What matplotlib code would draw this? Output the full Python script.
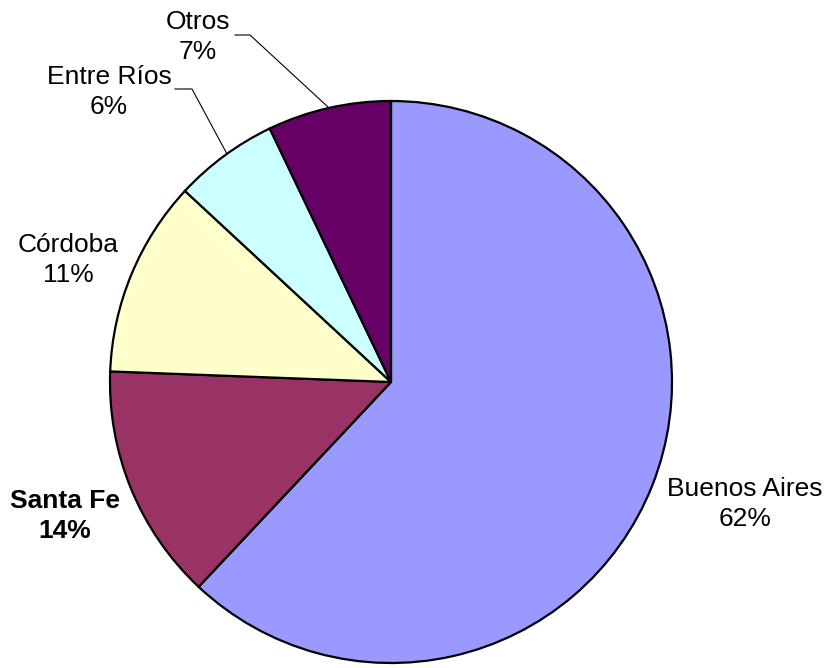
import matplotlib
matplotlib.use("Agg")
import matplotlib.pyplot as plt

provinces = ["Buenos Aires", "Santa Fe", "Córdoba", "Entre Ríos", "Otros"]
shares = [62.0, 13.6, 11.3, 6.0, 7.1]
colors = ["#9999FF", "#993366", "#FFFFCC", "#CCFFFF", "#660066"]

# label centres in pixel coords (x from left, y from top)
label_pos = [(745, 504), (65, 516), (68, 260), (109, 92), (198, 37)]
bold = [False, True, False, False, False]

W, H = 829, 668
fig = plt.figure(figsize=(W / 100, H / 100), dpi=100)
ax = fig.add_axes([0, 0, 1, 1])

cx, cy, r = 391, H - 382, 281
ax.pie(shares, colors=colors, startangle=90, counterclock=False,
       center=(cx, cy), radius=r, frame=True,
       wedgeprops=dict(edgecolor="black", linewidth=1.6))
ax.set_xlim(0, W)
ax.set_ylim(0, H)
ax.set_aspect("equal")
ax.axis("off")

for name, share, (x, y), b in zip(provinces, shares, label_pos, bold):
    ax.text(x, H - y, f"{name}\n{round(share)}%", ha="center", va="center",
            fontsize=19, family="Liberation Sans", linespacing=1.28,
            fontweight="bold" if b else "normal")

# leader lines for the two small slices
ax.plot([235, 250, 328], [H - 35, H - 35, H - 107], color="black", lw=0.8)
ax.plot([175, 192, 227], [H - 89, H - 89, H - 154], color="black", lw=0.8)

fig.savefig("out.png", dpi=100)
